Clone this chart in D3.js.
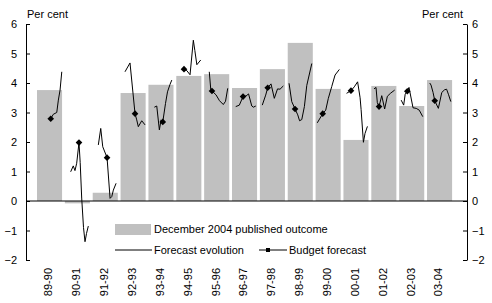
<!DOCTYPE html>
<html>
<head>
<meta charset="utf-8">
<script src="https://cdn.jsdelivr.net/npm/d3@7"></script>
<style>
  body { margin: 0; background: #fff; }
  text { font-family: "Liberation Sans", Arial, sans-serif; }
</style>
</head>
<body>
<div id="chart"></div>
<script>
const width = 492;
const height = 303;

// anos fiscais
const years = ["89-90", "90-91", "91-92", "92-93", "93-94", "94-95", "95-96", "96-97",
  "97-98", "98-99", "99-00", "00-01", "01-02", "02-03", "03-04"];

// December 2004 published outcome
const outcome = [3.76, -0.08, 0.28, 3.66, 3.94, 4.24, 4.30, 3.83, 4.47, 5.36, 3.80, 2.07, 3.90, 3.22, 4.10];

// Budget forecast: [t, valor], t = tempo dentro da janela do ano (0-25)
const budget = [
  [13.7, 2.79], [14.1, 1.98], [14.3, 1.47], [14.4, 2.96], [14.3, 2.68],
  [7.7, 4.47], [7.8, 3.73], [11.0, 3.54], [7.8, 3.84], [7.3, 3.12],
  [7.1, 2.96], [7.5, 3.74], [7.7, 3.20], [8.1, 3.72], [7.7, 3.40]
];

// Forecast evolution, um array por ano
const evolution = [
  [[13.7, 2.79], [16.3, 2.94], [19.7, 3.0], [21.3, 3.42], [23.0, 3.76], [24.7, 4.38]],
  [[5.8, 0.99], [8.4, 1.19], [10.1, 1.03], [11.8, 1.28], [14.1, 1.98], [15.3, 1.3], [16.8, 0.1],
   [18.6, -0.9], [20.1, -1.38], [21.6, -1.1], [23.4, -0.85]],
  [[5.6, 1.9], [8.0, 2.46], [10.0, 1.84], [14.3, 1.47], [17.3, 0.09], [19.0, 0.15], [20.6, 0.37], [23.3, 0.6]],
  [[4.4, 4.38], [9.4, 4.68], [14.4, 2.96], [16.1, 2.75], [17.7, 2.52], [21.1, 2.72], [24.4, 2.58]],
  [[5.9, 3.18], [8.3, 3.22], [10.9, 2.41], [12.6, 2.75], [14.3, 2.68], [17.0, 3.3], [19.0, 3.7],
   [21.5, 3.95], [23.3, 4.1]],
  [[7.7, 4.47], [10.5, 4.42], [13.7, 4.28], [17.0, 5.45], [18.5, 5.1], [20.5, 4.62], [24.4, 4.78]],
  [[5.1, 4.38], [6.6, 3.78], [7.8, 3.73], [11.8, 3.6], [15.3, 3.4], [19.1, 3.27], [21.3, 3.38], [23.5, 3.82]],
  [[3.7, 3.2], [7.3, 3.25], [11.0, 3.54], [14.0, 3.56], [16.5, 3.63], [19.7, 3.22], [21.3, 3.18], [23.7, 3.22]],
  [[2.4, 3.25], [5.8, 3.59], [7.8, 3.84], [11.1, 3.97], [14.4, 3.48], [17.6, 3.8], [20.1, 3.79], [23.4, 3.9]],
  [[1.3, 3.99], [4.0, 3.37], [7.3, 3.12], [10.0, 2.92], [11.8, 2.72], [14.0, 2.76], [16.6, 3.2],
   [19.0, 3.92], [24.0, 4.66]],
  [[1.7, 2.65], [7.1, 2.96], [10.1, 3.08], [12.7, 3.48], [16.1, 3.88], [19.4, 4.27], [23.7, 4.46]],
  [[3.1, 3.65], [7.5, 3.74], [10.8, 3.87], [14.1, 4.04], [16.6, 3.5], [17.6, 3.1], [19.9, 1.99],
   [21.5, 2.29], [23.9, 2.53]],
  [[2.7, 3.8], [4.7, 3.85], [6.0, 3.33], [7.7, 3.2], [10.4, 3.57], [13.3, 3.12], [16.0, 3.55],
   [19.4, 3.66], [23.3, 3.76]],
  [[2.0, 3.42], [4.5, 3.25], [6.0, 3.62], [8.1, 3.72], [9.8, 3.85], [13.8, 3.16], [17.0, 3.14],
   [20.0, 3.08], [23.5, 2.86]],
  [[2.7, 4.0], [4.0, 3.93], [6.0, 3.68], [7.7, 3.4], [11.3, 3.14], [14.7, 3.68], [17.5, 3.77],
   [19.5, 3.79], [21.5, 3.6], [23.7, 3.37]]
];

const yTicks = [-2, -1, 0, 1, 2, 3, 4, 5, 6];

const svg = d3.select("#chart")
  .append("svg")
  .attr("width", width)
  .attr("height", height);

const plotLeft = 26, plotRight = 467, plotTop = 24, plotBottom = 260;

const y = d3.scaleLinear().domain([-2, 6]).range([plotBottom, plotTop]);

const x = d3.scaleBand()
  .domain(years)
  .range([35.6, 453.5])
  .paddingInner(0.1)
  .paddingOuter(0.05);

// tempo dentro de cada banda
const t = d3.scaleLinear().domain([0, 25]).range([0, x.bandwidth()]);

// Barras
svg.append("g")
  .selectAll("rect")
  .data(outcome)
  .enter()
  .append("rect")
  .attr("x", (d, i) => x(years[i]))
  .attr("y", d => y(Math.max(0, d)))
  .attr("width", x.bandwidth())
  .attr("height", d => Math.abs(y(d) - y(0)))
  .attr("fill", "#c0c0c0");

// Eixos
const axisL = svg.append("g")
  .attr("transform", `translate(${plotLeft},0)`)
  .call(d3.axisLeft(y).tickValues(yTicks).tickSizeInner(-4).tickSizeOuter(0).tickPadding(9));

const axisR = svg.append("g")
  .attr("transform", `translate(${plotRight},0)`)
  .call(d3.axisRight(y).tickValues(yTicks).tickSizeInner(-4).tickSizeOuter(0).tickPadding(5));

[axisL, axisR].forEach(g => {
  g.selectAll("text").style("font-size", "11px").attr("fill", "#000")
    .style("font-family", "'Liberation Sans', Arial, sans-serif");
  g.selectAll("path, line").attr("stroke", "#000");
});

// linha do zero
svg.append("line")
  .attr("x1", plotLeft).attr("x2", plotRight)
  .attr("y1", y(0)).attr("y2", y(0))
  .attr("stroke", "#000")
  .attr("stroke-width", 1);

// Forecast evolution
const line = d3.line()
  .x(d => d[0])
  .y(d => d[1]);

svg.append("g")
  .selectAll("path")
  .data(evolution)
  .enter()
  .append("path")
  .attr("d", (d, i) => line(d.map(p => [x(years[i]) + t(p[0]), y(p[1])])))
  .attr("fill", "none")
  .attr("stroke", "#000")
  .attr("stroke-width", 1);

// Budget forecast
const marker = d3.symbol().type(d3.symbolSquare).size(22);

svg.append("g")
  .selectAll("path")
  .data(budget)
  .enter()
  .append("path")
  .attr("d", marker)
  .attr("transform", (d, i) => `translate(${x(years[i]) + t(d[0])},${y(d[1])}) rotate(45)`)
  .attr("fill", "#000");

// rótulos do eixo x
svg.append("g")
  .selectAll("text")
  .data(years)
  .enter()
  .append("text")
  .attr("transform", d => `translate(${x(d) + x.bandwidth() / 2 - 1},268) rotate(-90)`)
  .attr("text-anchor", "end")
  .attr("dy", "0.35em")
  .style("font-size", "11px")
  .text(d => d);

// Per cent
svg.append("text")
  .attr("x", 27).attr("y", 18)
  .style("font-size", "11px")
  .text("Per cent");

svg.append("text")
  .attr("x", 463).attr("y", 18)
  .attr("text-anchor", "end")
  .style("font-size", "11px")
  .text("Per cent");

// Legenda
const leg = svg.append("g");

leg.append("rect")
  .attr("x", 115).attr("y", 224)
  .attr("width", 36).attr("height", 11)
  .attr("fill", "#c0c0c0");

leg.append("text")
  .attr("x", 154).attr("y", 233)
  .style("font-size", "11px")
  .text("December 2004 published outcome");

leg.append("line")
  .attr("x1", 115).attr("x2", 152)
  .attr("y1", 250).attr("y2", 250)
  .attr("stroke", "#000");

leg.append("text")
  .attr("x", 154).attr("y", 254)
  .style("font-size", "11px")
  .text("Forecast evolution");

leg.append("line")
  .attr("x1", 259).attr("x2", 287)
  .attr("y1", 250).attr("y2", 250)
  .attr("stroke", "#000");

leg.append("rect")
  .attr("x", 266).attr("y", 248)
  .attr("width", 4).attr("height", 4)
  .attr("fill", "#000");

leg.append("text")
  .attr("x", 289).attr("y", 254)
  .style("font-size", "11px")
  .text("Budget forecast");
</script>
</body>
</html>
